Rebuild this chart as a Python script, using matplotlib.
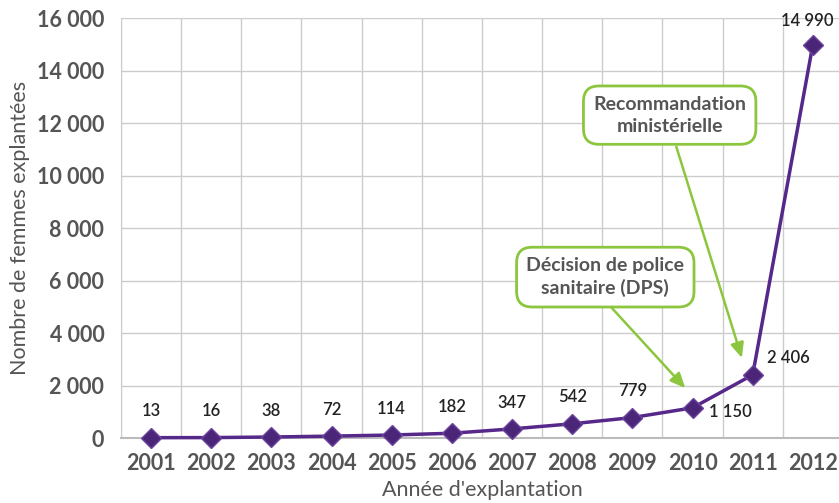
import matplotlib.pyplot as plt
from matplotlib.ticker import FixedLocator

years = ["2001", "2002", "2003", "2004", "2005", "2006",
         "2007", "2008", "2009", "2010", "2011", "2012"]
explants = [13, 16, 38, 72, 114, 182, 347, 542, 779, 1150, 2406, 14990]
value_labels = ["13", "16", "38", "72", "114", "182", "347", "542",
                "779", "1 150", "2 406", "14 990"]
y_ticks = [0, 2000, 4000, 6000, 8000, 10000, 12000, 14000, 16000]
y_tick_labels = ["0", "2 000", "4 000", "6 000", "8 000", "10 000",
                 "12 000", "14 000", "16 000"]

plt.rcParams['font.family'] = ['Lato', 'DejaVu Sans']

PURPLE = "#55288a"
GREEN = "#8cc63e"
GREY_TXT = "#555555"

fig = plt.figure(figsize=(8.39, 5.03), dpi=100)
ax = fig.add_axes([0.1442, 0.1292, 0.8605, 0.835])

x = list(range(len(years)))
ax.plot(x, explants, color=PURPLE, lw=2.5, marker="D", markersize=10,
        markerfacecolor="#4a2578", markeredgecolor="#6d45a0",
        markeredgewidth=1, zorder=3, clip_on=False)

# labels des valeurs
for i, (v, lab) in enumerate(zip(explants, value_labels)):
    if i == 9:
        ax.annotate(lab, (i, v), xytext=(12, -3), textcoords="offset points",
                    ha="left", va="center", fontsize=12, color="#222222",
                    fontweight="semibold")
    elif i == 10:
        ax.annotate(lab, (i, v), xytext=(10, 12), textcoords="offset points",
                    ha="left", va="center", fontsize=12, color="#222222",
                    fontweight="semibold")
    elif i == 11:
        ax.annotate(lab, (i, v), xytext=(-4, 17), textcoords="offset points",
                    ha="center", va="center", fontsize=12, color="#222222",
                    fontweight="semibold")
    else:
        ax.annotate(lab, (i, v), xytext=(0, 19), textcoords="offset points",
                    ha="center", va="center", fontsize=12, color="#222222",
                    fontweight="semibold")

ax.set_xlim(-0.5, 11.5)
ax.set_ylim(0, 16000)
ax.set_xticks(x)
ax.set_xticklabels(years)
ax.xaxis.set_minor_locator(FixedLocator([i + 0.5 for i in range(-1, 12)]))
ax.set_yticks(y_ticks)
ax.set_yticklabels(y_tick_labels)

ax.grid(True, which="minor", axis="x", color="#cccccc", lw=1)
ax.grid(True, which="major", axis="y", color="#cccccc", lw=1)
ax.set_axisbelow(True)
ax.tick_params(axis="both", which="both", length=0)
ax.tick_params(axis="x", pad=11, labelsize=15.5, labelcolor=GREY_TXT)
ax.tick_params(axis="y", pad=12, labelsize=15.5, labelcolor=GREY_TXT)
for t in ax.get_xticklabels() + ax.get_yticklabels():
    t.set_fontweight("bold")
for s in ax.spines.values():
    s.set_visible(False)
ax.spines["left"].set_visible(True)
ax.spines["left"].set_color("#cccccc")
ax.spines["bottom"].set_visible(True)
ax.spines["bottom"].set_color("#bbbbbb")
ax.spines["bottom"].set_linewidth(1.5)

ax.set_xlabel("Année d'explantation", fontsize=15.5, color=GREY_TXT,
              labelpad=4)
ax.set_ylabel("Nombre de femmes explantées", fontsize=15.5, color=GREY_TXT,
              labelpad=5)

# encadrés
box = dict(boxstyle="round,pad=0.5,rounding_size=0.8", fc="white",
           ec=GREEN, lw=2)
ax.text(8.62, 12300, "Recommandation\nministérielle", ha="center",
        va="center", fontsize=14, fontweight="bold", color=GREY_TXT, bbox=box,
        linespacing=1.35, zorder=5)
ax.text(7.55, 6130, "Décision de police\nsanitaire (DPS)", ha="center",
        va="center", fontsize=14, fontweight="bold", color=GREY_TXT, bbox=box,
        linespacing=1.35, zorder=5)

arrow = dict(arrowstyle="-|>,head_length=0.9,head_width=0.4", color=GREEN,
             lw=1.8, shrinkA=0, shrinkB=0)
ax.annotate("", xy=(9.82, 3050), xytext=(8.73, 11100), arrowprops=arrow,
            zorder=4)
ax.annotate("", xy=(8.88, 1900), xytext=(7.66, 4950), arrowprops=arrow,
            zorder=4)

fig.savefig("out.png", dpi=100, facecolor="white")
